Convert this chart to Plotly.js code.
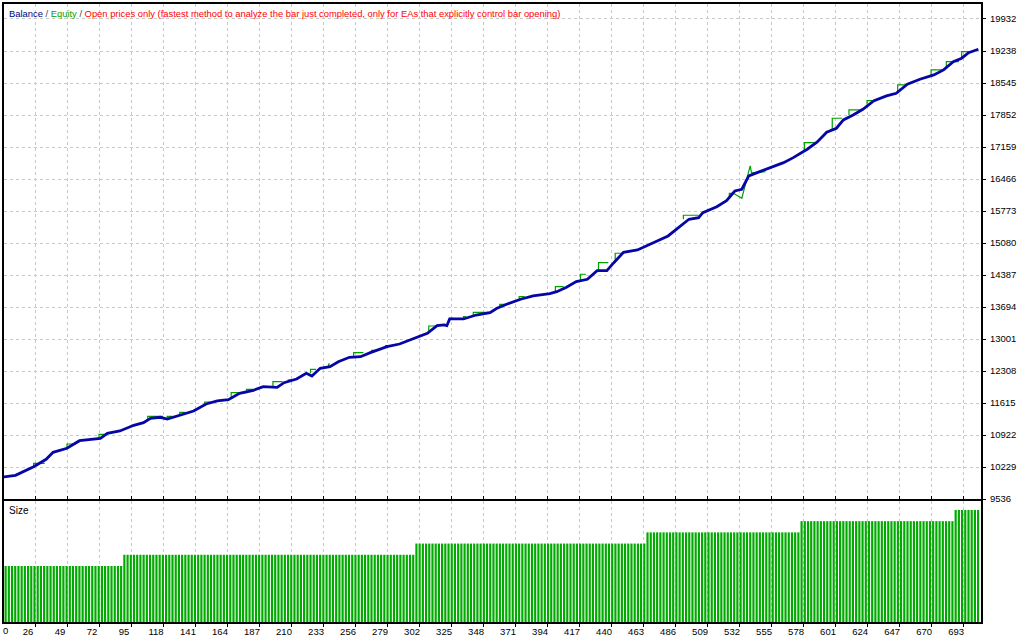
<!DOCTYPE html>
<html>
<head>
<meta charset="utf-8">
<script src="https://cdn.plot.ly/plotly-3.0.1.min.js"></script>
<style>html,body{margin:0;padding:0;background:#fff;}#chart{width:1024px;height:640px;}</style>
</head>
<body>
<div id="chart"></div>
<script>
// ---- data ----
const balanceTrades = [0,12,25,34,39,49,58,73,78,87,97,104,109,116,121,130,140,149,157,165,173,183,190,200,205,214,221,225,231,238,244,252,260,267,279,288,298,308,315,320,322,324,334,343,353,358,365,375,384,396,401,408,415,423,430,437,442,449,459,467,481,496,503,506,516,523,529,534,539,545,554,564,571,581,588,595,602,607,614,621,629,638,645,653,662,672,679,686,692,697,704];
const balanceValues = [10000,10049,10236,10396,10548,10634,10799,10851,10959,11009,11132,11189,11284,11306,11269,11349,11442,11594,11659,11687,11825,11890,11968,11955,12055,12135,12259,12200,12367,12402,12510,12605,12618,12705,12835,12893,13017,13125,13290,13305,13290,13435,13435,13521,13571,13667,13753,13862,13933,13983,14026,14121,14243,14295,14481,14481,14654,14880,14929,15038,15233,15594,15629,15737,15867,15997,16207,16244,16532,16604,16712,16820,16929,17111,17262,17479,17565,17745,17853,17977,18163,18265,18323,18518,18627,18720,18828,19008,19082,19203,19276];

// equity excursions above the balance line (null = gap)
const equityTrades = [
 25,25,33,null, 49,49,55,null, 72,72,76,null, 107,107,118,null, 121,121,125,null,
 130,130,134,null, 148,148,152,null, 167,167,178,null, 178,178,183,null, 197,197,204,null,
 208,208,212,null, 224,224,228,null, 237,237,238,null, 255,255,262,null, 268,268,272,null,
 278,278,280,null, 309,309,315,null, 324,324,327,null, 334,334,336,null, 341,341,353,null,
 360,360,365,null, 374,374,378,null, 400,400,406,null, 418,418,422,null, 431,431,438,null,
 443,443,448,null, 492,492,503,null, 525,525,528,534,540,541,551,null, 579,579,588,null,
 599,599,606,null, 611,611,619,null, 624,624,631,null, 646,646,652,null, 670,670,679,null,
 681,681,690,null, 692,692,698];
const equityValues = [
 10240,10309,10309,null, 10640,10727,10727,null, 10850,10937,10937,null, 11250,11327,11327,null, 11275,11327,11327,null,
 11350,11414,11414,null, 11575,11637,11637,null, 11717,11838,11838,null, 11860,11912,11912,null, 11984,12077,12077,null,
 12080,12114,12114,null, 12259,12345,12345,null, 12400,12460,12460,null, 12618,12705,12705,null, 12720,12757,12757,null,
 12810,12856,12856,null, 13160,13283,13283,null, 13380,13450,13450,null, 13435,13485,13485,null, 13510,13580,13580,null,
 13670,13753,13753,null, 13860,13918,13918,null, 14010,14134,14134,null, 14260,14403,14403,null, 14481,14654,14654,null,
 14660,14858,14858,null, 15594,15681,15681,null, 16080,16157,16157,16049,16749,16597,16625,null, 17100,17254,17254,null,
 17528,17782,17782,null, 17850,17962,17962,null, 18080,18163,18163,null, 18330,18503,18503,null, 18720,18828,18828,null,
 18870,19008,19008,null, 19100,19225,19225];

// position size steps: lot level and number of bars drawn at that level
const sizeLots = [0.5, 0.6, 0.7, 0.8, 0.9, 1.0];
const sizeBarCounts = [37, 91, 72, 48, 48, 8];

const xTickVals = [26,49,72,95,118,141,164,187,210,233,256,279,302,325,348,371,394,417,440,463,486,509,532,555,578,601,624,647,670,693];
const yTickVals = [9536,10229,10922,11615,12308,13001,13694,14387,15080,15773,16466,17159,17852,18545,19238,19932];

// ---- expand the size step table into bars ----
const sizeBarIndex = [];
const sizeBarValues = [];
sizeLots.forEach((lot, k) => {
  for (let j = 0; j < sizeBarCounts[k]; j++) {
    sizeBarIndex.push(sizeBarIndex.length);
    sizeBarValues.push(lot);
  }
});

const FONT = 'Liberation Sans, Arial, sans-serif';
const GRID = '#c8c8c8';
const DASH = '3px,3px';
const xRange = [3.72, 705.9];

const traces = [
  // invisible anchor so the lower panel (x, y2) exists and gets its grid
  {type:'scatter', mode:'none', x:[xRange[0]], y:[0], xaxis:'x', yaxis:'y2', hoverinfo:'skip', showlegend:false},
  {type:'scatter', mode:'lines', x:equityTrades, y:equityValues, xaxis:'x', yaxis:'y',
   line:{color:'#00a000', width:1.2}, connectgaps:false, hoverinfo:'skip'},
  {type:'scatter', mode:'lines', x:balanceTrades, y:balanceValues, xaxis:'x', yaxis:'y',
   line:{color:'#0606a6', width:2.8}, hoverinfo:'skip'},
  {type:'bar', x:sizeBarIndex, y:sizeBarValues, xaxis:'x3', yaxis:'y2',
   marker:{color:'#00aa00', line:{width:0}}, hoverinfo:'skip'}
];

const layout = {
  width:1024, height:640,
  margin:{l:4, r:43, t:4, b:18, pad:0},
  paper_bgcolor:'#ffffff', plot_bgcolor:'#ffffff',
  showlegend:false,
  bargap:0.32,
  font:{family:FONT, size:10, color:'#000'},
  xaxis:{anchor:'y2', range:xRange, tickmode:'array', tickvals:xTickVals, ticktext:xTickVals.map(String),
    showgrid:true, gridcolor:GRID, griddash:DASH, gridwidth:1, zeroline:false,
    showline:true, mirror:'all', linecolor:'#000', linewidth:2,
    ticks:'outside', ticklen:3, tickcolor:'#000', ticklabelshift:-7, ticklabelstandoff:-3,
    tickfont:{family:FONT, size:9.5, color:'#000'}},
  xaxis3:{anchor:'y2', overlaying:'x', range:[-0.5, 303.9], visible:false},
  yaxis:{domain:[0.199, 1], anchor:'x', side:'right', range:[9536, 20256],
    tickmode:'array', tickvals:yTickVals, ticktext:yTickVals.map(String),
    showgrid:true, gridcolor:GRID, griddash:DASH, gridwidth:1, zeroline:false,
    showline:true, mirror:true, linecolor:'#000', linewidth:2,
    ticks:'outside', ticklen:3, tickcolor:'#000', ticklabelstandoff:2,
    tickfont:{family:FONT, size:9.5, color:'#000'}},
  yaxis2:{domain:[0, 0.1958], anchor:'x', range:[0, 1.08],
    showgrid:false, zeroline:false, showticklabels:false, ticks:'',
    showline:true, mirror:true, linecolor:'#000', linewidth:2},
  annotations:[
    {xref:'paper', yref:'paper', x:0.003, y:0.9854, xanchor:'left', yanchor:'middle', showarrow:false,
     font:{family:FONT, size:9.4, color:'#000'},
     text:'<span style="color:#000080">Balance</span><span style="color:#404060"> / </span><span style="color:#00a000">Equity</span><span style="color:#404040"> / </span><span style="color:#ff0000">Open prices only (fastest method to analyze the bar just completed, only for EAs that explicitly control bar opening)</span>'},
    {xref:'paper', yref:'paper', x:0.003, y:0.1812, xanchor:'left', yanchor:'middle', showarrow:false,
     font:{family:FONT, size:10, color:'#000'}, text:'Size'},
    {xref:'paper', yref:'paper', x:0.002, y:-0.0130, xanchor:'center', yanchor:'middle', showarrow:false,
     font:{family:FONT, size:9.5, color:'#000'}, text:'0'}
  ]
};

Plotly.newPlot('chart', traces, layout, {staticPlot:true, displayModeBar:false});
</script>
</body>
</html>
